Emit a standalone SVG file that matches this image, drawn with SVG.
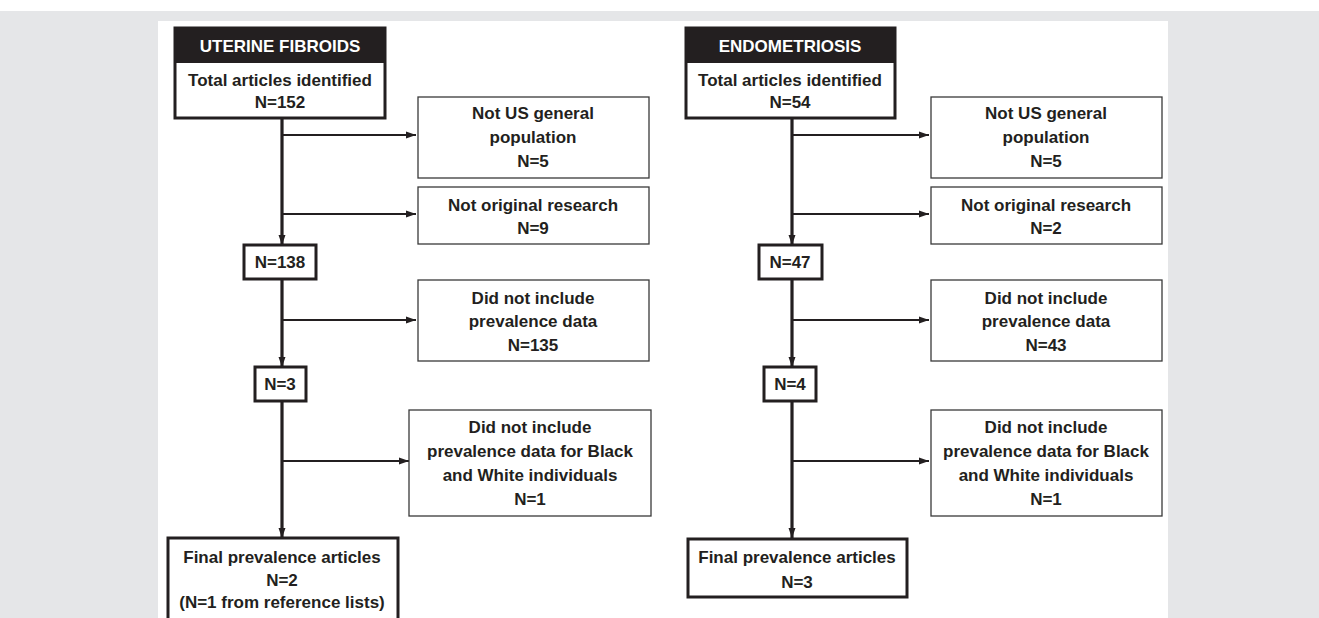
<svg xmlns="http://www.w3.org/2000/svg" width="1319" height="618" viewBox="0 0 1319 618">
<style>
text{font-family:"Liberation Sans",Arial,sans-serif;font-weight:bold;font-size:17px;fill:#231f20;text-anchor:middle;dominant-baseline:central}
.hdr{fill:#ffffff}
.main{fill:#ffffff;stroke:#231f20;stroke-width:3}
.side{fill:#ffffff;stroke:#3a3a3a;stroke-width:1.3}
.v{stroke:#231f20;stroke-width:3.2;fill:none}
.h{stroke:#231f20;stroke-width:2;fill:none}
</style>
<defs>
<marker id="ah" markerUnits="userSpaceOnUse" markerWidth="10" markerHeight="10" viewBox="0 0 10 10" refX="10" refY="5" orient="auto">
<path d="M0,1.5 L10,5 L0,8.5 Z" fill="#231f20"/>
</marker>
</defs>
<rect x="0" y="0" width="1319" height="618" fill="#ffffff"/>
<rect x="0" y="11" width="1319" height="607" fill="#e5e6e8"/>
<rect x="158" y="21" width="1010" height="597" fill="#ffffff"/>

<g id="connectors">
<path class="v" d="M282,118 V245" marker-end="url(#ah)"/>
<path class="h" d="M282,135 H416" marker-end="url(#ah)"/>
<path class="h" d="M282,214 H416" marker-end="url(#ah)"/>
<path class="v" d="M282,279 V367" marker-end="url(#ah)"/>
<path class="h" d="M282,320 H416" marker-end="url(#ah)"/>
<path class="v" d="M282,401 V538" marker-end="url(#ah)"/>
<path class="h" d="M282,461 H409" marker-end="url(#ah)"/>

<path class="v" d="M792,118 V245" marker-end="url(#ah)"/>
<path class="h" d="M792,135 H929" marker-end="url(#ah)"/>
<path class="h" d="M792,214 H929" marker-end="url(#ah)"/>
<path class="v" d="M792,279 V367" marker-end="url(#ah)"/>
<path class="h" d="M792,320 H929" marker-end="url(#ah)"/>
<path class="v" d="M792,401 V538" marker-end="url(#ah)"/>
<path class="h" d="M792,461 H929" marker-end="url(#ah)"/>
</g>

<g id="uf-total">
<rect class="main" x="175" y="28" width="210" height="90"/>
<rect x="175" y="28" width="210" height="35" fill="#231f20"/>
<text class="hdr" x="280" y="46">UTERINE FIBROIDS</text>
<text x="280" y="80">Total articles identified</text>
<text x="280" y="102">N=152</text>
</g>
<g id="uf-ex1">
<rect class="side" x="418" y="97" width="231" height="81"/>
<text x="533" y="113">Not US general</text>
<text x="533" y="137">population</text>
<text x="533" y="161">N=5</text>
</g>
<g id="uf-ex2">
<rect class="side" x="418" y="187" width="231" height="57"/>
<text x="533" y="205">Not original research</text>
<text x="533" y="228">N=9</text>
</g>
<g id="uf-n138">
<rect class="main" x="244" y="245" width="72" height="34"/>
<text x="280" y="262">N=138</text>
</g>
<g id="uf-ex3">
<rect class="side" x="418" y="280" width="231" height="81"/>
<text x="533" y="298">Did not include</text>
<text x="533" y="321">prevalence data</text>
<text x="533" y="345">N=135</text>
</g>
<g id="uf-n3">
<rect class="main" x="255" y="367" width="51" height="34"/>
<text x="280" y="384">N=3</text>
</g>
<g id="uf-ex4">
<rect class="side" x="409" y="410" width="242" height="106"/>
<text x="530" y="427">Did not include</text>
<text x="530" y="451">prevalence data for Black</text>
<text x="530" y="475">and White individuals</text>
<text x="530" y="499">N=1</text>
</g>
<g id="uf-final">
<rect class="main" x="168" y="538" width="230" height="90"/>
<text x="282" y="557">Final prevalence articles</text>
<text x="282" y="580">N=2</text>
<text x="282" y="602">(N=1 from reference lists)</text>
</g>

<g id="en-total">
<rect class="main" x="686" y="28" width="209" height="90"/>
<rect x="686" y="28" width="209" height="35" fill="#231f20"/>
<text class="hdr" x="790" y="46">ENDOMETRIOSIS</text>
<text x="790" y="80">Total articles identified</text>
<text x="790" y="102">N=54</text>
</g>
<g id="en-ex1">
<rect class="side" x="931" y="97" width="231" height="81"/>
<text x="1046" y="113">Not US general</text>
<text x="1046" y="137">population</text>
<text x="1046" y="161">N=5</text>
</g>
<g id="en-ex2">
<rect class="side" x="931" y="187" width="231" height="57"/>
<text x="1046" y="205">Not original research</text>
<text x="1046" y="228">N=2</text>
</g>
<g id="en-n47">
<rect class="main" x="759" y="245" width="63" height="34"/>
<text x="790" y="262">N=47</text>
</g>
<g id="en-ex3">
<rect class="side" x="931" y="280" width="231" height="81"/>
<text x="1046" y="298">Did not include</text>
<text x="1046" y="321">prevalence data</text>
<text x="1046" y="345">N=43</text>
</g>
<g id="en-n4">
<rect class="main" x="764" y="367" width="52" height="34"/>
<text x="790" y="384">N=4</text>
</g>
<g id="en-ex4">
<rect class="side" x="931" y="410" width="231" height="106"/>
<text x="1046" y="427">Did not include</text>
<text x="1046" y="451">prevalence data for Black</text>
<text x="1046" y="475">and White individuals</text>
<text x="1046" y="499">N=1</text>
</g>
<g id="en-final">
<rect class="main" x="688" y="539" width="219" height="58"/>
<text x="797" y="557">Final prevalence articles</text>
<text x="797" y="582">N=3</text>
</g>
</svg>
